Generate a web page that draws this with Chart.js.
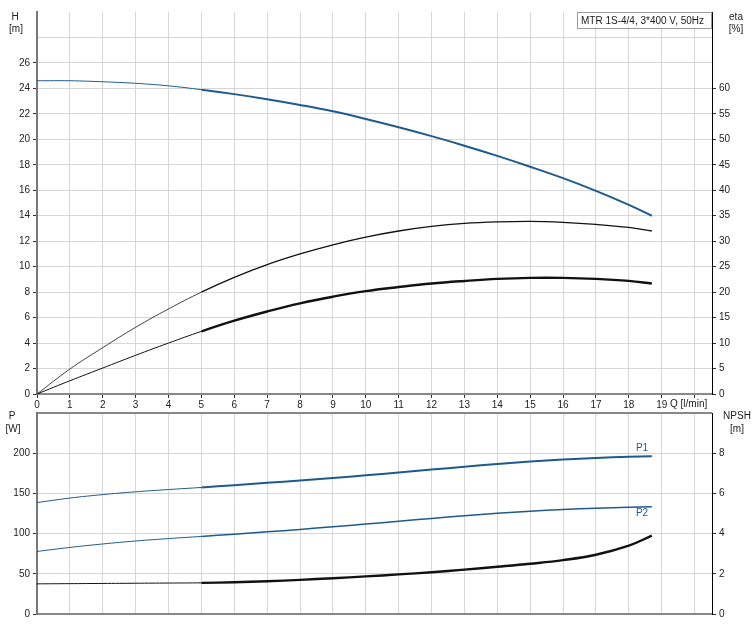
<!DOCTYPE html>
<html>
<head>
<meta charset="utf-8">
<script src="https://cdn.jsdelivr.net/npm/chart.js@4.4.1/dist/chart.umd.min.js"></script>
<style>
    body { margin: 0; background: #fff; }
    #wrap { position: relative; width: 754px; height: 630px; }
    #topChart { position: absolute; left: 0; top: 0; }
    #bottomChart { position: absolute; left: 0; top: 404px; }
</style>
</head>
<body>
<div id="wrap">
    <canvas id="topChart" width="754" height="414" style="width:754px;height:414px"></canvas>
    <canvas id="bottomChart" width="754" height="226" style="width:754px;height:226px"></canvas>
</div>
<script>
// Data
const flow = [0, 1, 2, 3, 4, 5, 6, 7, 8, 9, 10, 11, 12, 13, 14, 15, 16, 17, 18, 18.7];
const head = [24.6, 24.6, 24.52, 24.4, 24.2, 23.9, 23.55, 23.15, 22.7, 22.2, 21.6, 20.95, 20.25, 19.5, 18.7, 17.85, 16.95, 15.95, 14.85, 14.0];
const etaPump = [0, 4.9, 9.1, 13.1, 16.7, 20.0, 22.9, 25.4, 27.5, 29.3, 30.8, 32.0, 32.9, 33.5, 33.8, 33.9, 33.7, 33.3, 32.7, 32.0];
const etaTotal = [0, 2.6, 5.1, 7.6, 10.0, 12.3, 14.4, 16.2, 17.8, 19.1, 20.2, 21.0, 21.7, 22.2, 22.6, 22.8, 22.8, 22.6, 22.2, 21.7];
const powerP1 = [138.6, 144.2, 148.5, 152, 154.8, 157.4, 160.2, 163.1, 166.1, 169.2, 172.5, 176, 179.6, 183.2, 186.6, 189.6, 192.1, 194.1, 195.6, 196.3];
const powerP2 = [77.8, 82.8, 87.1, 90.8, 93.8, 96.5, 99.3, 102.2, 105.2, 108.5, 111.9, 115.4, 118.9, 122.2, 125.2, 127.8, 129.9, 131.6, 132.8, 133.3];
const npsh = [1.50, 1.51, 1.52, 1.53, 1.54, 1.55, 1.58, 1.63, 1.70, 1.78, 1.87, 1.97, 2.08, 2.21, 2.35, 2.50, 2.68, 2.95, 3.40, 3.90];
const headTicks = [0, 2, 4, 6, 8, 10, 12, 14, 16, 18, 20, 22, 24, 26];
const etaTicks = [0, 5, 10, 15, 20, 25, 30, 35, 40, 45, 50, 55, 60];
const powerTicks = [0, 50, 100, 150, 200];
const npshTicks = [0, 2, 4, 6, 8];
const title = 'MTR 1S-4/4, 3*400 V, 50Hz';
// End data

const FONT = 'Liberation Sans, Arial, sans-serif';
const BLUE = '#1f5a8c';
const GRID = '#d6d6d6';
const Q_MAX = 20.53;

const pts = (ys) => flow.map((q, i) => ({ x: q, y: ys[i] }));

function curve(ys, axis, color, thin, thick) {
    return {
        data: pts(ys),
        yAxisID: axis,
        borderColor: color,
        borderWidth: thick,
        segment: { borderWidth: ctx => ctx.p0.parsed.x >= 5 ? thick : thin },
        pointRadius: 0,
        fill: false,
        tension: 0.4
    };
}

function text(ctx, str, x, y, align, color) {
    ctx.save();
    ctx.font = '10px ' + FONT;
    ctx.fillStyle = color || '#222';
    ctx.textAlign = align || 'center';
    ctx.textBaseline = 'middle';
    ctx.fillText(str, x, y);
    ctx.restore();
}

const topLabels = {
    id: 'topLabels',
    afterDraw(chart) {
        const ctx = chart.ctx;
        text(ctx, 'H', 15, 17);
        text(ctx, '[m]', 16, 29);
        text(ctx, 'eta', 736, 17);
        text(ctx, '[%]', 736, 29);
        text(ctx, 'Q [l/min]', 670, 404, 'left');
        ctx.save();
        ctx.fillStyle = '#fff';
        ctx.fillRect(577.5, 12.5, 134, 16);
        ctx.strokeStyle = '#9a9a9a';
        ctx.lineWidth = 1;
        ctx.strokeRect(577.5, 12.5, 134, 16);
        ctx.restore();
        text(ctx, title, 581, 21, 'left');
    }
};

const bottomLabels = {
    id: 'bottomLabels',
    afterDraw(chart) {
        const ctx = chart.ctx;
        text(ctx, 'P', 12, 12);
        text(ctx, '[W]', 13, 25);
        text(ctx, 'NPSH', 737, 12);
        text(ctx, '[m]', 737, 25);
        text(ctx, 'P1', 642, 44, 'center', BLUE);
        text(ctx, 'P2', 642, 109, 'center', BLUE);
    }
};

const tickFont = { family: FONT, size: 10 };

new Chart($('#topChart'), {
    type: 'line',
    data: {
        datasets: [
            curve(head, 'h', BLUE, 1, 2),
            curve(etaPump, 'eta', '#111', 0.8, 1.3),
            curve(etaTotal, 'eta', '#111', 1, 2.4)
        ]
    },
    options: {
        responsive: false,
        animation: false,
        layout: { padding: { top: 12, left: 0, right: 0, bottom: 0 } },
        plugins: { legend: { display: false }, tooltip: { enabled: false } },
        scales: {
            x: {
                type: 'linear', min: 0, max: Q_MAX,
                afterFit: s => { s.height = 20; },
                ticks: {
                    stepSize: 1, includeBounds: false, autoSkip: false, maxRotation: 0,
                    padding: 1, color: '#222', font: tickFont,
                    callback: v => v <= 19 ? v : ''
                },
                grid: { color: GRID, tickColor: '#333', tickLength: 4 },
                border: { color: '#888', width: 2 }
            },
            h: {
                type: 'linear', position: 'left', min: 0, max: 30,
                afterFit: s => { s.width = 37; },
                ticks: {
                    stepSize: 2, autoSkip: false, padding: 3, color: '#222', font: tickFont,
                    callback: v => headTicks.includes(v) ? v : ''
                },
                grid: {
                    color: c => c.tick && c.tick.value === 30 ? 'transparent' : GRID,
                    tickColor: c => c.tick && c.tick.value > 26 ? 'transparent' : '#333',
                    tickLength: 4
                },
                border: { color: '#777', width: 2 }
            },
            eta: {
                type: 'linear', position: 'right', min: 0, max: 75,
                afterFit: s => { s.width = 42; },
                ticks: {
                    stepSize: 5, autoSkip: false, padding: 3, color: '#222', font: tickFont,
                    callback: v => etaTicks.includes(v) ? v : ''
                },
                grid: {
                    drawOnChartArea: false,
                    tickColor: c => c.tick && c.tick.value > 60 ? 'transparent' : '#333',
                    tickLength: 4
                },
                border: { color: '#000', width: 1 }
            }
        }
    },
    plugins: [topLabels]
});

new Chart($('#bottomChart'), {
    type: 'line',
    data: {
        datasets: [
            curve(powerP1, 'p', BLUE, 1, 2),
            curve(powerP2, 'p', BLUE, 1, 1.5),
            curve(npsh, 'npsh', '#111', 1, 2.4)
        ]
    },
    options: {
        responsive: false,
        animation: false,
        layout: { padding: { top: 8, left: 0, right: 0, bottom: 0 } },
        plugins: { legend: { display: false }, tooltip: { enabled: false } },
        scales: {
            x: {
                type: 'linear', min: 0, max: Q_MAX,
                afterFit: s => { s.height = 16; },
                ticks: { stepSize: 1, includeBounds: false, display: false },
                grid: { color: GRID, drawTicks: false },
                border: { color: '#888', width: 2 }
            },
            p: {
                type: 'linear', position: 'left', min: 0, max: 250,
                afterFit: s => { s.width = 37; },
                ticks: {
                    stepSize: 50, autoSkip: false, padding: 3, color: '#222', font: tickFont,
                    callback: v => powerTicks.includes(v) ? v : ''
                },
                grid: {
                    color: c => c.tick && c.tick.value === 250 ? '#888' : GRID,
                    lineWidth: c => c.tick && c.tick.value === 250 ? 2 : 1,
                    tickColor: c => c.tick && c.tick.value > 200 ? 'transparent' : '#333',
                    tickLength: 4
                },
                border: { color: '#777', width: 2 }
            },
            npsh: {
                type: 'linear', position: 'right', min: 0, max: 10,
                afterFit: s => { s.width = 42; },
                ticks: {
                    stepSize: 2, autoSkip: false, padding: 3, color: '#222', font: tickFont,
                    callback: v => npshTicks.includes(v) ? v : ''
                },
                grid: {
                    drawOnChartArea: false,
                    tickColor: c => c.tick && c.tick.value > 8 ? 'transparent' : '#333',
                    tickLength: 4
                },
                border: { color: '#000', width: 1 }
            }
        }
    },
    plugins: [bottomLabels]
});

function $(selector) { return document.querySelector(selector); }
</script>
</body>
</html>
